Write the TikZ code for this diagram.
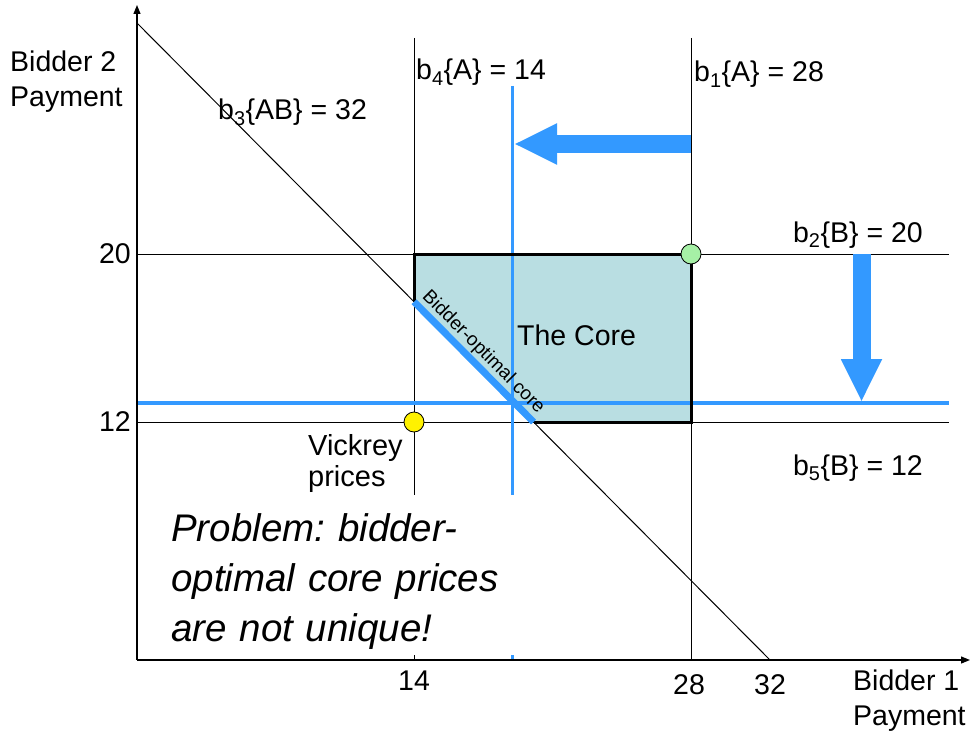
\documentclass[tikz,border=0pt]{standalone}
\usepackage{fontspec}
\setmainfont{Liberation Sans}
\usetikzlibrary{arrows.meta}
\definecolor{coreblue}{RGB}{51,153,255}
\definecolor{corefill}{RGB}{185,222,226}
\definecolor{corepoint}{RGB}{166,240,166}
\tikzset{
  gridline/.style={line width=1pt},
  blueline/.style={coreblue,line width=3.5pt},
  bluearrow/.style={coreblue,line width=18pt,-{Triangle[length=43pt,width=38pt]}},
  lab/.style={inner sep=0pt,font=\fontsize{28.5}{34}\selectfont},
  pricept/.style={circle,draw,line width=0.8pt,minimum size=20pt,inner sep=0pt},
}
\frenchspacing
\begin{document}
\begin{tikzpicture}[x=1pt,y=-1pt,>={Triangle[length=9pt,width=7pt]}]
\useasboundingbox (0,0) rectangle (974,733);
\coordinate (O) at (137,660);
\coordinate (ytop) at (137,5);
\coordinate (xend) at (970,660);
\coordinate (d1) at (137,23);
\coordinate (d2) at (770,660);
\coordinate (c1) at (414,254);
\coordinate (c2) at (691,254);
\coordinate (c3) at (691,422);
\coordinate (c4) at (533.5,422);
\coordinate (c5) at (414,301.75);
\fill[corefill] (c1) -- (c2) -- (c3) -- (c4) -- (c5) -- cycle;
\foreach \x in {414,691} \draw[gridline] (\x,38) -- (\x,660);
\foreach \y in {254,422} \draw[gridline] (137,\y) -- (949,\y);
\draw[gridline] (d1) -- (d2);
\draw[blueline] (137,403) -- (949,403);
\draw[blueline] (512.5,86) -- (512.5,660);
\draw[line width=3pt] (c5) -- (c1) -- (c2) -- (c3) -- (c4);
\draw[coreblue,line width=7pt] (c5) -- (c4) node[midway,sloped,above,inner sep=1pt,text=black,font=\fontsize{19}{20}\selectfont] {Bidder-optimal core};
\node[pricept,fill=corepoint] (full) at (c2) {};
\node[pricept,fill=yellow] (vick) at (414,422) {};
\draw[bluearrow] (691,144) -- (514,144);
\draw[bluearrow] (861.5,254) -- (861.5,402);
\draw[line width=1.2pt,->] (O) -- (ytop);
\draw[line width=1.2pt,->] (O) -- (xend);
\node[lab,anchor=north west,align=left,font=\fontsize{28.5}{35}\selectfont] (ylab) at (10,51) {Bidder 2\\Payment};
\node[lab,anchor=north west,align=left,font=\fontsize{28.5}{35}\selectfont] (xlab) at (853,670) {Bidder 1\\Payment};
\node[lab,anchor=east] (t20) at (131,254) {20};
\node[lab,anchor=east] (t12) at (131,422) {12};
\node[lab,anchor=north] (t14) at (414,671) {14};
\node[lab,anchor=north] (t28) at (689,674) {28};
\node[lab,anchor=north] (t32) at (770,674) {32};
\node[lab,anchor=base west] (b3) at (218,120) {b\textsubscript{3}\{AB\} = 32};
\node[lab,anchor=base west] (b4) at (416,80) {b\textsubscript{4}\{A\} = 14};
\node[lab,anchor=base west] (b1) at (694,82) {b\textsubscript{1}\{A\} = 28};
\node[lab,anchor=base east] (b2) at (923,242) {b\textsubscript{2}\{B\} = 20};
\node[lab,anchor=base east] (b5) at (923,475) {b\textsubscript{5}\{B\} = 12};
\node[lab,anchor=base west] (core) at (517,345) {The Core};
\node[lab,anchor=north west,align=left,font=\fontsize{29}{31}\selectfont] (vlab) at (308,434) {Vickrey\\prices};
\node[fill=white,inner sep=6pt,anchor=north west,text width=343pt,align=left,font=\fontsize{38.5}{50}\selectfont\itshape] (problem) at (165,495) {\rule{0pt}{40pt}Problem: bidder-\\optimal core prices\\are not unique!};
\end{tikzpicture}
\end{document}
